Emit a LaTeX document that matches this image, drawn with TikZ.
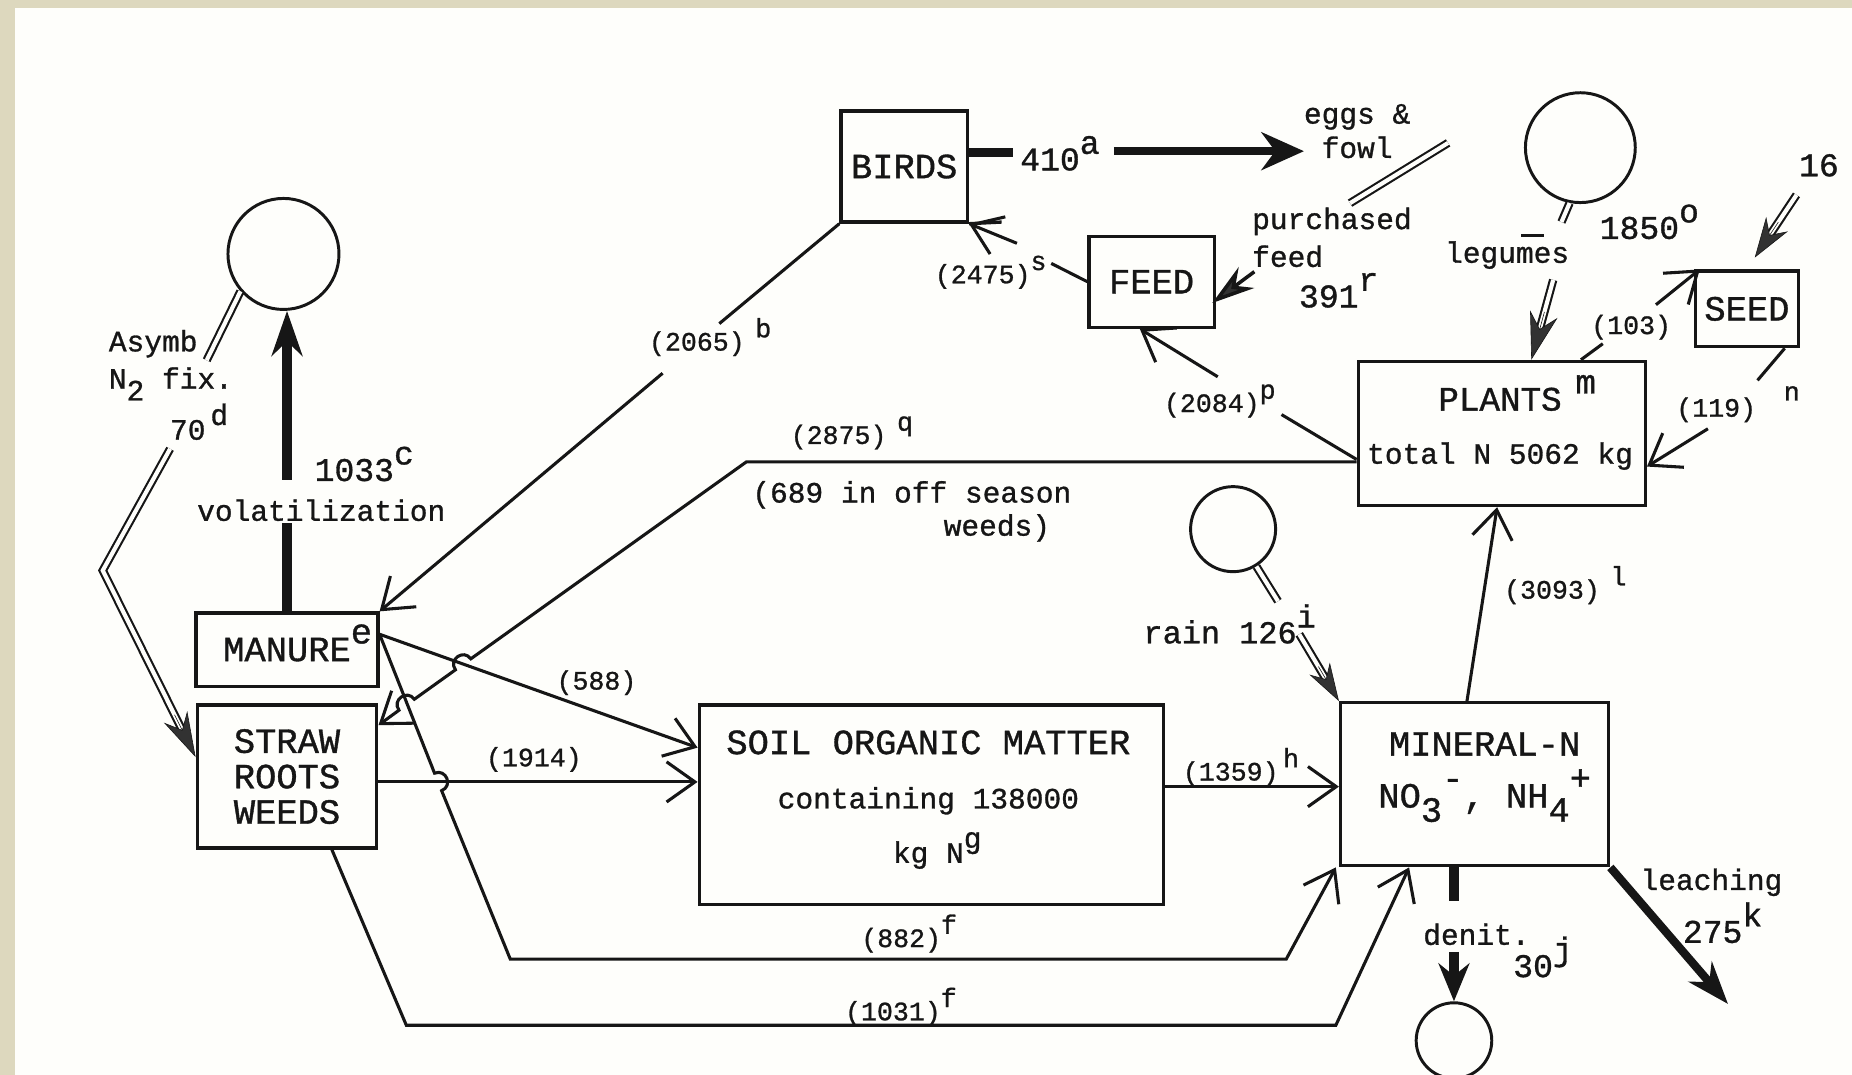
\documentclass[tikz,border=0pt]{standalone}
\usepackage{fontspec}
\setmainfont{Liberation Mono}[FakeBold=1]
\usetikzlibrary{arrows.meta,calc}
\definecolor{ink}{RGB}{22,22,22}
\definecolor{headc}{RGB}{50,50,50}
\definecolor{beige}{RGB}{221,216,190}
\definecolor{card}{RGB}{254,254,251}
\newcommand\mysup[1]{\rlap{\smash{\raisebox{0.5em}{#1}}}}
\newcommand\mysupc[1]{\smash{\raisebox{0.5em}{#1}}}
\newcommand\mysub[1]{\smash{\raisebox{-0.4em}{#1}}}
\newcommand\fT{\fontsize{30}{30}\selectfont}
\newcommand\fW{\fontsize{25}{29}\selectfont}
\newcommand\fL{\fontsize{22.5}{26}\selectfont}
\newcommand\fN{\fontsize{28}{30}\selectfont}
\tikzset{
  box/.style={draw=ink, line width=2.8pt, inner sep=0pt, align=center, text=ink},
  fline/.style={draw=ink, line width=2.6pt},
  flow/.style={draw=ink, line width=2.6pt, -{Straight Barb[length=24pt,width=34pt]}},
  thk/.style={draw=ink, line width=7pt},
  dbl/.style={draw=ink, line width=1.8pt, double=card, double distance=3.5pt},
  dhead/.style 2 args={draw=ink, line width=0.5pt, -{Stealth[length=#1pt,width=#2pt,fill=headc]}},
  src/.style={circle, draw=ink, line width=2.5pt, inner sep=0pt},
  lbl/.style={text=ink, inner sep=0pt},
}
\begin{document}
\begin{tikzpicture}[x=1pt,y=-1pt]
\useasboundingbox (0,0) rectangle (1568,910);
\clip (0,0) rectangle (1568,910);
\fill[beige] (0,0) rectangle (1568,910);
\fill[card] (13,7) rectangle (1568,910);

% ---------- boxes ----------
\node[box, minimum width=107pt, minimum height=94pt, font=\fT] (birds) at (765.5,141) {BIRDS};
\node[box, minimum width=106pt, minimum height=77pt, font=\fT] (feed) at (975,238.5) {FEED};
\node[box, minimum width=87pt, minimum height=64pt, font=\fT] (seed) at (1479,261.5) {SEED};
\node[box, minimum width=243pt, minimum height=122pt] (plants) at (1271.5,367) {};
\node[lbl, align=center, font=\fontsize{25}{45}\selectfont] (plantsT) at (1270,363)
  {{\fontsize{29}{29}\selectfont PLANTS\mysup{\hspace{0.4em}m}}\\total N 5062 kg};
\node[box, minimum width=154pt, minimum height=62pt, font=\fT] (manure) at (243,550) {MANURE\mysup{e}};
\node[box, minimum width=152pt, minimum height=121pt, font=\fT] (straw) at (243,657.5) {STRAW\\ROOTS\\WEEDS};
\node[box, minimum width=393pt, minimum height=169pt] (som) at (788.5,681.5) {};
\node[lbl, align=center, font=\fontsize{25}{46}\selectfont] (somT) at (786,677)
  {{\fT SOIL ORGANIC MATTER}\\containing 138000\\kg N\mysup{g}};
\node[box, minimum width=227pt, minimum height=138pt] (mineral) at (1248.5,664) {};
\node[lbl, align=center, font=\fontsize{30}{44}\selectfont] (mineralT) at (1257,654.5)
  {MINERAL-N\\NO\mysub{3}\mysupc{-}, NH\mysub{4}\mysupc{+}};

% ---------- source / sink circles ----------
\node[src, minimum size=94pt] (atmo) at (240,215) {};
\node[src, minimum size=93pt] (lcirc) at (1338,125) {};
\node[src, minimum size=72pt] (rcirc) at (1044,448) {};
\node[src, minimum size=64pt] (dcirc) at (1231,881) {};

% ---------- labels ----------
\node[lbl, font=\fN] (l410) at (889,135) {410\mysup{a}};
\node[lbl, font=\fontsize{25}{29}\selectfont, align=center] (leggs) at (1149,111) {eggs \&\\fowl};
\node[lbl, font=\fontsize{25}{32}\selectfont, align=left, anchor=west] (lpurch) at (1060,201) {purchased\\feed};
\node[lbl, font=\fN] (l391) at (1125,251) {391\mysup{r}};
\node[lbl, font=\fW] (lleg) at (1276,216) {legumes};
\node[lbl, font=\fN] (l1850) at (1388,193) {1850\mysup{o}};
\node[lbl, font=\fN] (l16) at (1540,140) {16};
\node[lbl, font=\fL] (l103) at (1381,277) {(103)};
\node[lbl, font=\fL] (l119) at (1453,347) {(119)};
\node[lbl, font=\fL] (ln) at (1517,333) {n};
\node[lbl, font=\fL] (l2065) at (590,291) {(2065)\mysup{\hspace{0.4em}b}};
\node[lbl, font=\fL] (l2475) at (832,234) {(2475)\mysup{s}};
\node[lbl, font=\fL] (l2084) at (1026,343) {(2084)\mysup{p}};
\node[lbl, font=\fL] (l2875) at (710,370) {(2875)\mysup{\hspace{0.4em}q}};
\node[lbl, font=\fW] (loff1) at (772,419) {(689 in off season};
\node[lbl, font=\fW] (loff2) at (844,447) {weeds)};
\node[lbl, font=\fL] (l588) at (505,578) {(588)};
\node[lbl, font=\fL] (l1914) at (452,643) {(1914)};
\node[lbl, font=\fL] (l1359) at (1042,655) {(1359)\mysup{\,h}};
\node[lbl, font=\fL] (l3093) at (1314,501) {(3093)\mysup{\hspace{0.4em}l}};
\node[lbl, font=\fL] (l882) at (763,796) {(882)\mysup{f}};
\node[lbl, font=\fL] (l1031) at (756,858) {(1031)\mysup{f}};
\node[lbl, font=\fN] (l1033) at (300,398) {1033\mysup{c}};
\node[lbl, font=\fW] (lvol) at (272,432) {volatilization};
\node[lbl, font=\fW, anchor=west] (lasy) at (92,291) {Asymb};
\node[lbl, font=\fW, anchor=west] (lnfix) at (92,320) {N\mysub{2} fix.};
\node[lbl, font=\fW] (l70) at (159,364) {70\mysup{\,d}};
\node[lbl, font=\fontsize{27}{30}\selectfont] (lrain) at (1033,535) {rain 126\mysup{i}};
\node[lbl, font=\fW] (lleach) at (1449,747) {leaching};
\node[lbl, font=\fN] (l275) at (1450,789) {275\mysup{k}};
\node[lbl, font=\fW] (ldenit) at (1250,791) {denit.};
\node[lbl, font=\fN] (l30) at (1298,818) {30\mysup{j}};

% ---------- coordinates ----------
\coordinate (bext) at (848,188);
\coordinate (e1) at (858,129);
\coordinate (e2) at (943,128);
\coordinate (eggsend) at (1104,128);
\coordinate (pf1) at (1226,121);
\coordinate (pf2) at (1143,172);
\coordinate (pf3) at (1062,230);
\coordinate (lt) at (1322,188);
\coordinate (ld1) at (1288,199);
\coordinate (ld2) at (1307,199);
\coordinate (la1) at (1315,237);
\coordinate (latip) at ([xshift=25pt]plants.north);
\coordinate (s16a) at (1521,165);
\coordinate (s16b) at ($(seed.north)!12pt!(s16a)$);
\coordinate (r1) at (1082,509);
\coordinate (r2) at (1100,537);
\coordinate (a1) at (175,305);
\coordinate (a2) at (144,380);
\coordinate (a3) at (87,483);
\coordinate (atip) at ([yshift=16.5pt]straw.west);
\coordinate (v1) at (243,443);
\coordinate (v2) at (243,406);
\coordinate (leach) at (1463,850);
\coordinate (dn1) at (1231,763);
\coordinate (dn2) at (1231,806);
\coordinate (b1) at (609,274);
\coordinate (b2) at (561,316);
\coordinate (s1) at (890,223);
\coordinate (s2) at (861,206);
\coordinate (p1) at (1085,351);
\coordinate (p2) at (1031,319);
\coordinate (q1) at (632,391);
\coordinate (h1a) at (398.6,557.8);
\coordinate (h1c) at (392.4,549.1);
\coordinate (h1d) at (379.4,558.4);
\coordinate (h1b) at (385.6,567.1);
\coordinate (h2a) at (350.8,592.0);
\coordinate (h2c) at (344.6,583.3);
\coordinate (h2d) at (331.6,592.6);
\coordinate (h2b) at (337.8,601.3);
\coordinate (c1) at (1357,291);
\coordinate (c2) at (1402,258);
\coordinate (n1) at (1488,322);
\coordinate (n2) at (1446,363);
\coordinate (me) at ([yshift=13pt]manure.east);
\coordinate (k0a) at (367.9,654.6);
\coordinate (k0c) at (377.8,650.6);
\coordinate (k0d) at (383.8,665.4);
\coordinate (k0b) at (373.9,669.4);
\coordinate (k1) at (432,812);
\coordinate (k2) at (1089,812);
\coordinate (w1) at (344,868);
\coordinate (w2) at (1131,868);

% ---------- birds extras ----------
\draw[draw=ink, line width=2.8pt] (birds.south east) -- (bext);

% eggs & fowl
\draw[thk] ([yshift=12pt]birds.east) -- (e1);
\draw[thk, -{Stealth[length=36pt,width=32pt]}] (e2) -- (eggsend);

% purchased feed
\draw[dbl] (pf1) -- (pf2);
\draw[draw=ink, line width=3pt, -{Stealth[length=36pt,width=22pt,fill=headc]}] (pf3) -- ([xshift=-3pt,yshift=-18pt]feed.east);

% legumes
\draw[dbl] (lcirc.259) -- (lt);
\draw[draw=ink, line width=2.5pt] (ld1) -- (ld2);
\draw[dbl, shorten >=22pt] (la1) -- (latip);
\draw[dhead={40}{24}] ($(latip)!42pt!(la1)$) -- (latip);

% seed input 16
\draw[dbl, shorten >=20pt] (s16a) -- (s16b);
\draw[dhead={34}{22}] ($(s16b)!36pt!(s16a)$) -- (s16b);

% rain
\draw[dbl] (rcirc.-58) -- (r1);
\draw[dbl, shorten >=18pt] (r2) -- (mineral.north west);
\draw[dhead={32}{20}] ($(mineral.north west)!34pt!(r2)$) -- (mineral.north west);

% asymbiotic fixation
\draw[dbl] (atmo.221) -- (a1);
\draw[dbl, shorten >=20pt] (a2) -- (a3) -- (atip);
\draw[dhead={38}{22}] ($(atip)!40pt!(a3)$) -- (atip);

% volatilization
\draw[thk, line width=8pt] (manure.north) -- (v1);
\draw[thk, line width=8pt, -{Stealth[length=38pt,width=26pt]}] (v2) -- (v2 |- atmo.south);

% leaching
\draw[thk, -{Stealth[length=36pt,width=26pt]}] (mineral.south east) -- (leach);

% denitrification
\draw[thk, line width=8pt] ([xshift=-17.5pt]mineral.south) -- (dn1);
\draw[thk, line width=8pt, -{Stealth[length=32pt,width=26pt]}] (dn2) -- (dcirc.north);

% ---------- internal flows ----------
% (2065) birds -> manure
\draw[fline] (birds.south west) -- (b1);
\draw[flow] (b2) -- (manure.north east);
% (2475) feed -> birds
\draw[fline] (feed.west) -- (s1);
\draw[flow] (s2) -- (birds.south east);
% (2084) plants -> feed
\draw[fline] ([yshift=-22pt]plants.west) -- (p1);
\draw[flow] (p2) -- ([xshift=-10pt]feed.south);
% (2875) plants -> straw
\draw[flow] ([yshift=-24pt]plants.west) -- (q1) -- (h1a) .. controls (h1c) and (h1d) .. (h1b)
  -- (h2a) .. controls (h2c) and (h2d) .. (h2b) -- ([yshift=43.5pt]straw.east);
% (103) plants -> seed
\draw[fline] ([xshift=67pt]plants.north) -- (c1);
\draw[flow] (c2) -- ([xshift=5pt]seed.north west);
% (119) seed -> plants
\draw[fline] ([xshift=32pt]seed.south) -- (n1);
\draw[flow] (n2) -- ([yshift=-28pt]plants.east);
% (3093) mineral -> plants
\draw[flow] ([xshift=-6.5pt]mineral.north) -- ([xshift=-4pt]plants.south);
% (1359) som -> mineral
\draw[flow] ([yshift=15.5pt]som.east) -- ([yshift=-2pt]mineral.west);
% (1914) straw -> som
\draw[flow] ([yshift=-4.5pt]straw.east) -- ([yshift=19.5pt]som.west);
% (588) manure -> som
\draw[flow] (me) -- ([yshift=48.5pt]som.west);
% (882) manure -> mineral
\draw[flow] (me) -- (k0a) .. controls (k0c) and (k0d) .. (k0b) -- (k1) -- (k2) -- ([xshift=-117.5pt]mineral.south);
% (1031) straw -> mineral
\draw[flow] ([xshift=38pt]straw.south) -- (w1) -- (w2) -- ([xshift=-55.5pt]mineral.south);
\end{tikzpicture}
\end{document}
